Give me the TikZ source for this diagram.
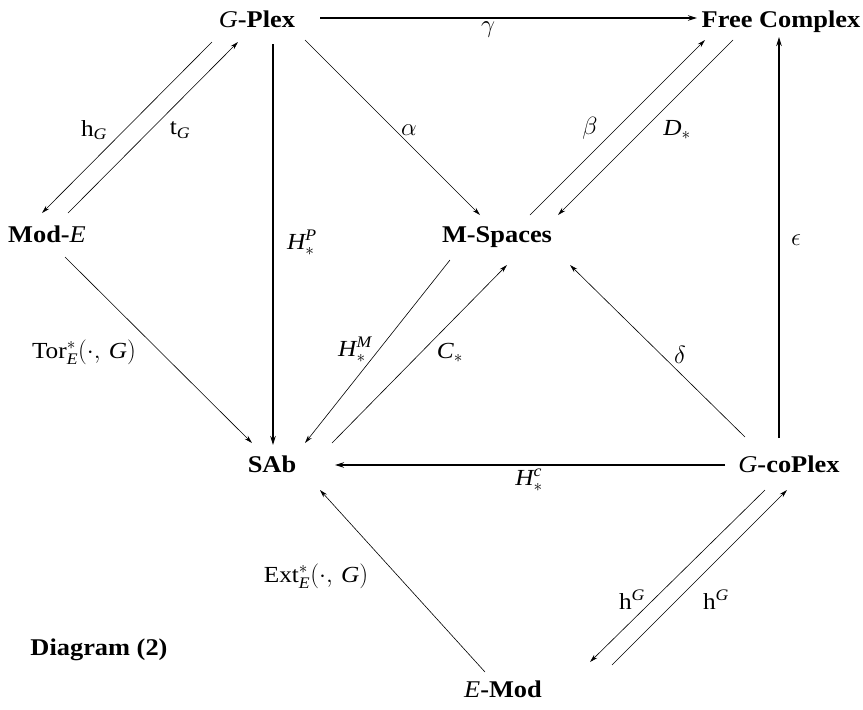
\documentclass[tikz,border=0pt]{standalone}
\usepackage{amsmath}
\usepackage{fontspec}
\setmainfont[FakeStretch=1.1]{Liberation Serif}
\usetikzlibrary{arrows.meta}
\newcommand{\vi}[1]{\textit{#1}}
\tikzset{
  obj/.style={font=\fontsize{24}{28}\selectfont, inner sep=2pt, anchor=base},
  lab/.style={font=\fontsize{23}{27}\selectfont, inner sep=1pt},
  thin arr/.style={line width=0.6pt, -{Stealth[length=8pt,width=4.5pt]}},
  thick arr/.style={line width=1.5pt, -{Stealth[length=9pt,width=5.5pt]}},
}
\begin{document}
\begin{tikzpicture}[x=1pt,y=-1pt]
\useasboundingbox (0,0) rectangle (863,710);
% objects (placed at their baselines)
\node[obj] (gp) at (257,27) {\vi{G}\textbf{-Plex}};
\node[obj] (fc) at (781,27) {\textbf{Free Complex}};
\node[obj] (me) at (47,242) {\textbf{Mod-}\vi{E}};
\node[obj] (ms) at (497,242) {\textbf{M-Spaces}};
\node[obj] (sab) at (272,472) {\textbf{SAb}};
\node[obj] (gc) at (789,472) {\vi{G}\textbf{-coPlex}};
\node[obj] (em) at (503,697) {\vi{E}\textbf{-Mod}};
\node[obj] (dg) at (99,655) {\textbf{Diagram (2)}};
% arrows
\draw[thick arr] ([shift={(63,-9)}]gp.base) -- ([shift={(-84,-9)}]fc.base);
\draw[thick arr] ([shift={(16,17)}]gp.base) -- ([shift={(1,-27)}]sab.base);
\draw[thin arr] ([shift={(48,13)}]gp.base) -- ([shift={(-17,-27)}]ms.base);
\draw[thin arr] ([shift={(-45,15)}]gp.base) -- ([shift={(-5,-29)}]me.base);
\draw[thin arr] ([shift={(21,-29)}]me.base) -- ([shift={(-19,15)}]gp.base);
\draw[thin arr] ([shift={(33,-27)}]ms.base) -- ([shift={(-76,13)}]fc.base);
\draw[thin arr] ([shift={(-48,13)}]fc.base) -- ([shift={(61,-27)}]ms.base);
\draw[thick arr] ([shift={(-10,-34)}]gc.base) -- ([shift={(-2,10)}]fc.base);
\draw[thin arr] ([shift={(18,15)}]me.base) -- ([shift={(-20,-29)}]sab.base);
\draw[thin arr] ([shift={(-47,18)}]ms.base) -- ([shift={(33,-29)}]sab.base);
\draw[thin arr] ([shift={(60,-29)}]sab.base) -- ([shift={(10,23)}]ms.base);
\draw[thin arr] ([shift={(-44,-35)}]gc.base) -- ([shift={(73,23)}]ms.base);
\draw[thick arr] ([shift={(-64,-7)}]gc.base) -- ([shift={(63,-7)}]sab.base);
\draw[thin arr] ([shift={(-18,-25)}]em.base) -- ([shift={(48,18)}]sab.base);
\draw[thin arr] ([shift={(-24,18)}]gc.base) -- ([shift={(87,-35)}]em.base);
\draw[thin arr] ([shift={(109,-32)}]em.base) -- ([shift={(-2,18)}]gc.base);
% labels
\node[lab] (lgam) at (488,30) {$\gamma$};
\node[lab] (lhp) at (302,243) {$\textit{H}^{\textit{P}}_{*}$};
\node[lab] (lal) at (409,130) {$\alpha$};
\node[lab] (lhg) at (94,130) {$\text{h}_{\textit{G}}$};
\node[lab] (ltg) at (180,130) {$\text{t}_{\textit{G}}$};
\node[lab] (lbe) at (590,128) {$\beta$};
\node[lab] (ld) at (677,130) {$\textit{D}_{*}$};
\node[lab] (lep) at (796,240) {$\epsilon$};
\node[lab] (ltor) at (84,352) {$\text{Tor}^{*}_{\textit{E}}(\cdot,\, \textit{G})$};
\node[lab] (lhm) at (355,350) {$\textit{H}^{\textit{M}}_{*}$};
\node[lab] (lc) at (450,353) {$\textit{C}_{*}$};
\node[lab] (lde) at (680,355) {$\delta$};
\node[lab] (lhc) at (529,480) {$\textit{H}^{\textit{c}}_{*}$};
\node[lab] (lext) at (316,576) {$\text{Ext}^{*}_{\textit{E}}(\cdot,\, \textit{G})$};
\node[lab] (lhu1) at (632,600) {$\text{h}^{\textit{G}}$};
\node[lab] (lhu2) at (716,600) {$\text{h}^{\textit{G}}$};
\end{tikzpicture}
\end{document}
